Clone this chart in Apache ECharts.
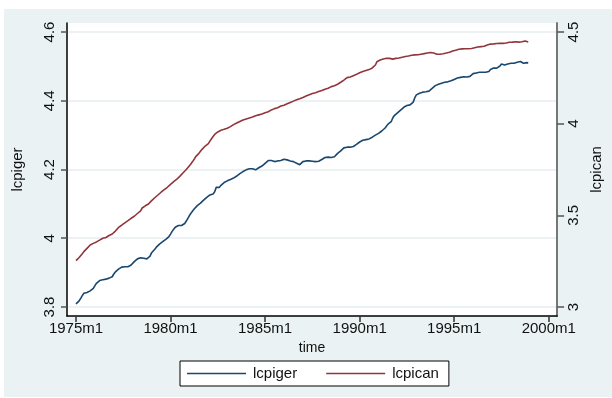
<!DOCTYPE html>
<html>
<head>
<meta charset="utf-8">
<script src="https://cdn.jsdelivr.net/npm/echarts@6/dist/echarts.min.js"></script>
<style>
  html, body { margin: 0; padding: 0; background: #fff; }
  #chart { width: 612px; height: 398px; }
</style>
</head>
<body>
<div id="chart"></div>
<script>
// Monthly log CPI, Germany and Canada, 1975m1 - 1998m12 (one row per year)
const lcpiger = [
  3.809, 3.813, 3.818, 3.825, 3.833, 3.840, 3.840, 3.842, 3.845, 3.847, 3.850, 3.854,
  3.862, 3.869, 3.873, 3.877, 3.878, 3.879, 3.880, 3.881, 3.882, 3.884, 3.886, 3.888,
  3.896, 3.902, 3.906, 3.910, 3.913, 3.916, 3.917, 3.917, 3.916, 3.917, 3.919, 3.922,
  3.927, 3.932, 3.936, 3.940, 3.942, 3.943, 3.943, 3.942, 3.941, 3.940, 3.941, 3.948,
  3.958, 3.963, 3.968, 3.974, 3.978, 3.983, 3.987, 3.990, 3.993, 3.997, 4.001, 4.005,
  4.012, 4.020, 4.026, 4.032, 4.035, 4.037, 4.037, 4.037, 4.038, 4.043, 4.050, 4.058,
  4.066, 4.073, 4.079, 4.085, 4.090, 4.095, 4.099, 4.102, 4.107, 4.111, 4.115, 4.119,
  4.123, 4.126, 4.128, 4.129, 4.135, 4.148, 4.150, 4.148, 4.154, 4.158, 4.162, 4.165,
  4.167, 4.169, 4.171, 4.173, 4.175, 4.178, 4.181, 4.185, 4.188, 4.191, 4.194, 4.197,
  4.199, 4.201, 4.202, 4.202, 4.202, 4.201, 4.199, 4.202, 4.205, 4.208, 4.210, 4.215,
  4.218, 4.222, 4.226, 4.226, 4.226, 4.225, 4.223, 4.224, 4.225, 4.226, 4.226, 4.228,
  4.230, 4.229, 4.228, 4.226, 4.225, 4.224, 4.223, 4.221, 4.218, 4.216, 4.214, 4.218,
  4.223, 4.224, 4.225, 4.225, 4.225, 4.225, 4.224, 4.223, 4.223, 4.223, 4.224, 4.226,
  4.229, 4.234, 4.235, 4.236, 4.236, 4.235, 4.235, 4.236, 4.237, 4.242, 4.247, 4.251,
  4.254, 4.259, 4.263, 4.264, 4.265, 4.265, 4.265, 4.266, 4.267, 4.269, 4.273, 4.277,
  4.280, 4.283, 4.285, 4.286, 4.287, 4.288, 4.289, 4.291, 4.294, 4.298, 4.300, 4.302,
  4.305, 4.308, 4.312, 4.315, 4.320, 4.326, 4.332, 4.331, 4.339, 4.350, 4.357, 4.361,
  4.365, 4.369, 4.373, 4.377, 4.381, 4.384, 4.386, 4.387, 4.388, 4.391, 4.396, 4.409,
  4.417, 4.420, 4.422, 4.424, 4.425, 4.425, 4.426, 4.427, 4.428, 4.431, 4.436, 4.440,
  4.444, 4.446, 4.448, 4.449, 4.451, 4.452, 4.454, 4.455, 4.455, 4.456, 4.458, 4.460,
  4.462, 4.465, 4.466, 4.467, 4.468, 4.469, 4.470, 4.470, 4.469, 4.467, 4.471, 4.475,
  4.479, 4.480, 4.481, 4.482, 4.483, 4.483, 4.483, 4.483, 4.483, 4.484, 4.485, 4.491,
  4.496, 4.495, 4.494, 4.495, 4.497, 4.501, 4.507, 4.504, 4.504, 4.505, 4.507, 4.508,
  4.509, 4.509, 4.509, 4.511, 4.512, 4.513, 4.514, 4.509, 4.509, 4.510, 4.511, 4.510
];

const lcpican = [
  3.253, 3.262, 3.270, 3.278, 3.290, 3.302, 3.311, 3.320, 3.329, 3.338, 3.343, 3.347,
  3.351, 3.355, 3.360, 3.365, 3.370, 3.375, 3.377, 3.379, 3.385, 3.390, 3.393, 3.398,
  3.406, 3.414, 3.424, 3.434, 3.438, 3.446, 3.453, 3.459, 3.465, 3.471, 3.478, 3.484,
  3.489, 3.495, 3.502, 3.510, 3.516, 3.524, 3.540, 3.548, 3.552, 3.557, 3.562, 3.569,
  3.580, 3.588, 3.596, 3.604, 3.611, 3.618, 3.626, 3.633, 3.640, 3.647, 3.653, 3.660,
  3.669, 3.678, 3.684, 3.690, 3.697, 3.706, 3.714, 3.724, 3.732, 3.741, 3.750, 3.760,
  3.771, 3.782, 3.793, 3.806, 3.820, 3.829, 3.838, 3.849, 3.860, 3.869, 3.878, 3.885,
  3.891, 3.905, 3.918, 3.930, 3.941, 3.950, 3.955, 3.959, 3.964, 3.966, 3.969, 3.972,
  3.975, 3.978, 3.984, 3.990, 3.995, 4.000, 4.004, 4.008, 4.012, 4.016, 4.020, 4.024,
  4.026, 4.028, 4.031, 4.034, 4.036, 4.039, 4.043, 4.046, 4.048, 4.050, 4.053, 4.057,
  4.060, 4.062, 4.065, 4.070, 4.075, 4.078, 4.082, 4.084, 4.087, 4.092, 4.096, 4.098,
  4.101, 4.105, 4.109, 4.113, 4.116, 4.120, 4.123, 4.127, 4.130, 4.133, 4.136, 4.138,
  4.143, 4.147, 4.151, 4.154, 4.158, 4.161, 4.164, 4.166, 4.169, 4.172, 4.175, 4.178,
  4.181, 4.184, 4.188, 4.193, 4.193, 4.197, 4.202, 4.204, 4.207, 4.211, 4.215, 4.220,
  4.226, 4.232, 4.238, 4.245, 4.251, 4.253, 4.255, 4.259, 4.262, 4.265, 4.269, 4.274,
  4.278, 4.282, 4.285, 4.287, 4.290, 4.293, 4.295, 4.298, 4.304, 4.311, 4.320, 4.338,
  4.343, 4.347, 4.350, 4.353, 4.355, 4.357, 4.357, 4.356, 4.354, 4.352, 4.353, 4.356,
  4.357, 4.358, 4.360, 4.362, 4.364, 4.366, 4.367, 4.369, 4.371, 4.373, 4.375, 4.375,
  4.375, 4.376, 4.378, 4.379, 4.380, 4.382, 4.384, 4.385, 4.387, 4.388, 4.389, 4.385,
  4.381, 4.379, 4.378, 4.379, 4.380, 4.381, 4.382, 4.385, 4.387, 4.390, 4.393, 4.396,
  4.398, 4.401, 4.404, 4.406, 4.407, 4.408, 4.409, 4.409, 4.408, 4.409, 4.410, 4.410,
  4.411, 4.414, 4.417, 4.418, 4.420, 4.420, 4.420, 4.422, 4.425, 4.429, 4.433, 4.434,
  4.435, 4.435, 4.436, 4.437, 4.438, 4.438, 4.438, 4.438, 4.439, 4.440, 4.442, 4.444,
  4.444, 4.445, 4.446, 4.447, 4.446, 4.445, 4.446, 4.447, 4.449, 4.451, 4.448, 4.445
];

// Time axis: months counted from 1975m1
const xTickMonths = [0, 60, 120, 180, 240, 300];
const xTickLabels = ['1975m1', '1980m1', '1985m1', '1990m1', '1995m1', '2000m1'];

const leftTicks = [3.8, 4, 4.2, 4.4, 4.6];
const leftTickLabels = ['3.8', '4', '4.2', '4.4', '4.6'];
const rightTicks = [3, 3.5, 4, 4.5];
const rightTickLabels = ['3', '3.5', '4', '4.5'];

const FONT = 'Liberation Sans, Arial, sans-serif';
const INK = '#111';

function lookup(values, labels) {
  return v => {
    const i = values.findIndex(t => Math.abs(t - v) < 1e-6);
    return i >= 0 ? labels[i] : '';
  };
}

const chart = echarts.init(document.getElementById('chart'), null, { renderer: 'canvas' });

chart.setOption({
  backgroundColor: '#ffffff',
  animation: false,
  graphic: [{
    type: 'rect', z: -100, silent: true,
    shape: { x: 4, y: 9, width: 608, height: 388 },
    style: { fill: '#eaf2f3' }
  }],
  grid: {
    left: 67, right: 50.5, top: 23, bottom: 82,
    show: true, backgroundColor: '#ffffff', borderWidth: 0
  },
  legend: {
    left: 180, top: 361,
    padding: [5, 10, 5, 7],
    itemGap: 29, itemWidth: 59, itemHeight: 1.6,
    icon: 'rect',
    borderColor: '#000', borderWidth: 1, backgroundColor: '#ffffff',
    textStyle: { fontFamily: FONT, fontSize: 15, color: INK, padding: [0, 0, 0, 2] },
    data: ['lcpiger', 'lcpican']
  },
  xAxis: {
    type: 'value', min: -5.7, max: 305.3,
    name: 'time', nameLocation: 'middle', nameGap: 21,
    nameTextStyle: { fontFamily: FONT, fontSize: 14, color: INK },
    axisLine: { onZero: false, lineStyle: { color: '#000', width: 1.5 } },
    axisTick: { customValues: xTickMonths, length: 6, lineStyle: { color: '#333', width: 1.5 } },
    axisLabel: {
      customValues: xTickMonths, margin: 5,
      fontFamily: FONT, fontSize: 15, color: INK,
      formatter: lookup(xTickMonths, xTickLabels)
    },
    splitLine: { show: false }
  },
  yAxis: [{
    type: 'value', position: 'left',
    min: 3.7738, max: 4.6262,
    name: 'lcpiger', nameLocation: 'middle', nameGap: 42, nameRotate: 90,
    nameTextStyle: { fontFamily: FONT, fontSize: 15, color: INK },
    axisLine: { show: true, onZero: false, lineStyle: { color: '#000', width: 1.5 } },
    axisTick: { show: true, customValues: leftTicks, length: 6, lineStyle: { color: '#555', width: 1.5 } },
    axisLabel: {
      customValues: leftTicks, rotate: 90, margin: 10,
      fontFamily: FONT, fontSize: 15, color: INK,
      formatter: lookup(leftTicks, leftTickLabels)
    },
    splitLine: { show: true, lineStyle: { color: '#e6eef1', width: 1.5 } }
  }, {
    type: 'value', position: 'right',
    min: 2.9509, max: 4.5491,
    name: 'lcpican', nameLocation: 'middle', nameGap: 28, nameRotate: 90,
    nameTextStyle: { fontFamily: FONT, fontSize: 15, color: INK },
    axisLine: { show: true, onZero: false, lineStyle: { color: '#777', width: 2 } },
    axisTick: { show: true, customValues: rightTicks, length: 7, lineStyle: { color: '#555', width: 1.5 } },
    axisLabel: {
      customValues: rightTicks, rotate: 90, margin: 9,
      fontFamily: FONT, fontSize: 15, color: INK,
      formatter: lookup(rightTicks, rightTickLabels)
    },
    splitLine: { show: false }
  }],
  series: [{
    name: 'lcpiger', type: 'line', yAxisIndex: 0,
    symbol: 'none', smooth: false,
    lineStyle: { color: '#1a476f', width: 1.6 },
    itemStyle: { color: '#1a476f' },
    data: lcpiger.map((v, i) => [i, v])
  }, {
    name: 'lcpican', type: 'line', yAxisIndex: 1,
    symbol: 'none', smooth: false,
    lineStyle: { color: '#90353b', width: 1.6 },
    itemStyle: { color: '#90353b' },
    data: lcpican.map((v, i) => [i, v])
  }]
});
</script>
</body>
</html>
